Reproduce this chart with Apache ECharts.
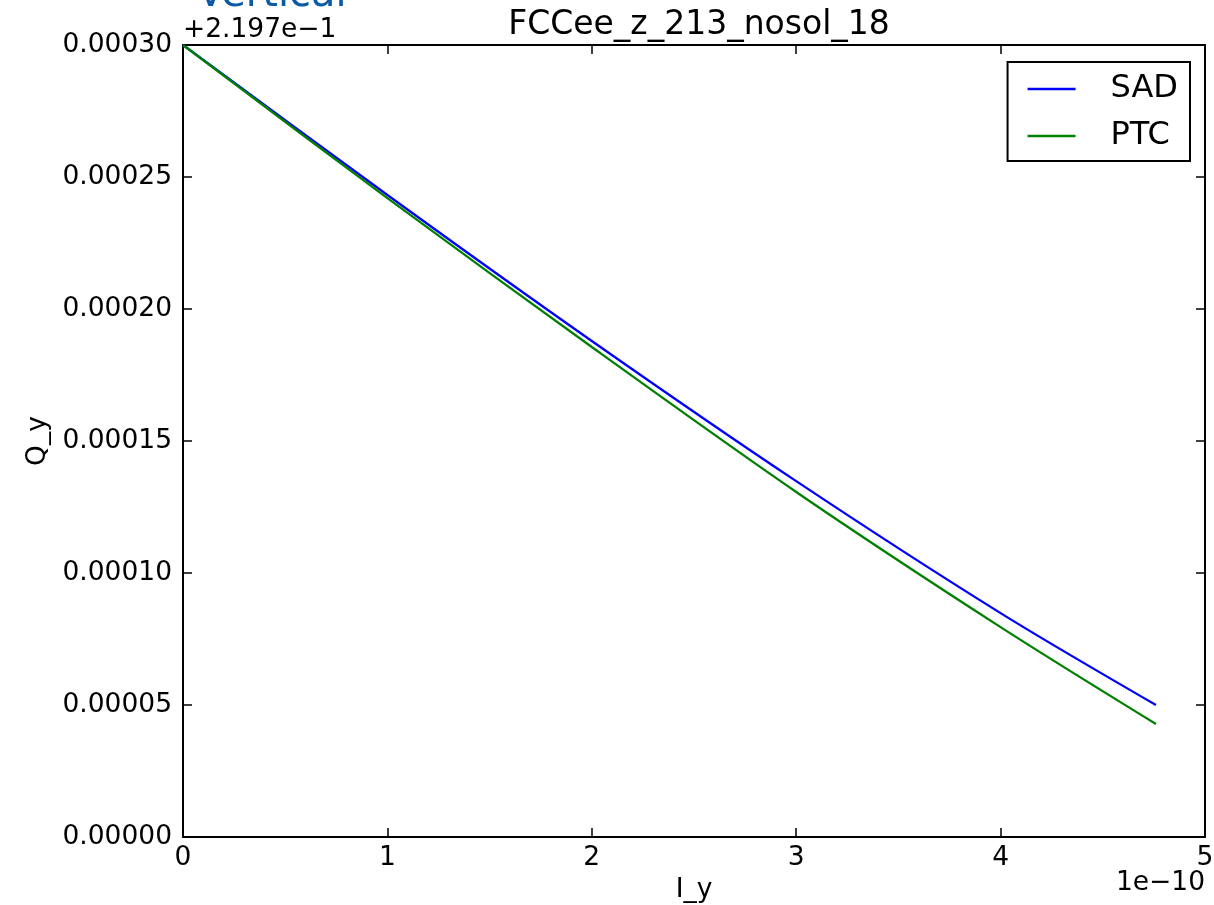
<!DOCTYPE html>
<html>
<head>
<meta charset="utf-8">
<script src="https://cdn.jsdelivr.net/npm/echarts@6/dist/echarts.min.js"></script>
<style>
  html, body { margin: 0; padding: 0; background: #fff; }
  #chart { width: 1214px; height: 905px; }
</style>
</head>
<body>
<div id="chart"></div>
<script>
// I_y in units of 1e-10
const iy = [0, 1, 2, 3, 4, 4.76];
// Q_y relative to the offset 0.2197
const qySAD = [0.000300, 0.0002432, 0.0001879, 0.0001348, 0.0000848, 0.0000500];
const qyPTC = [0.000300, 0.0002420, 0.0001856, 0.0001307, 0.0000795, 0.0000428];
const yTicks = ['0.00000', '0.00005', '0.00010', '0.00015', '0.00020', '0.00025', '0.00030'];
const xTicks = ['0', '1', '2', '3', '4', '5'];

const FONT = 'DejaVu Sans';
const TICK_FS = 26.5;
const pairs = (xs, ys) => xs.map((x, i) => [x, ys[i]]);

const frame = { onZero: false, lineStyle: { color: '#000', width: 2 } };
const tickIn = { show: true, inside: true, length: 9, lineStyle: { color: '#000', width: 1.5 } };

const chart = echarts.init(document.getElementById('chart'), null, { renderer: 'canvas' });
chart.setOption({
  animation: false,
  backgroundColor: '#fff',
  title: {
    text: 'FCCee_z_213_nosol_18',
    left: 694, top: 4, textAlign: 'center',
    textStyle: { fontFamily: FONT, fontSize: 33, fontWeight: 'normal', color: '#000' }
  },
  grid: { left: 183, right: 9, top: 45, bottom: 68, containLabel: false, outerBoundsMode: 'none' },
  legend: {
    orient: 'vertical',
    right: 24, top: 62,
    icon: 'rect', itemWidth: 48, itemHeight: 2.5, itemGap: 15,
    padding: [11, 12, 9, 20],
    borderColor: '#000', borderWidth: 2, borderRadius: 0,
    backgroundColor: '#fff',
    textStyle: { fontFamily: FONT, fontSize: 32, color: '#000', padding: [0, 0, 0, 30], lineHeight: 32 },
    data: ['SAD', 'PTC']
  },
  xAxis: [{
    type: 'value', min: 0, max: 5, interval: 1,
    name: 'I_y', nameLocation: 'middle', nameGap: 38,
    nameTextStyle: { fontFamily: FONT, fontSize: TICK_FS, color: '#000' },
    axisLine: frame, axisTick: tickIn, splitLine: { show: false },
    axisLabel: { fontFamily: FONT, fontSize: TICK_FS, color: '#000', margin: 8,
      formatter: v => xTicks[Math.round(v)] }
  }, {
    type: 'value', min: 0, max: 5, interval: 1, position: 'top',
    axisLine: frame, axisTick: tickIn, splitLine: { show: false }, axisLabel: { show: false }
  }],
  yAxis: [{
    type: 'value', min: 0, max: 0.0003, interval: 0.00005,
    name: 'Q_y', nameLocation: 'middle', nameGap: 125,
    nameTextStyle: { fontFamily: FONT, fontSize: TICK_FS, color: '#000' },
    axisLine: frame, axisTick: tickIn, splitLine: { show: false },
    axisLabel: { fontFamily: FONT, fontSize: TICK_FS, color: '#000', margin: 11,
      formatter: v => yTicks[Math.round(v / 0.00005)] }
  }, {
    type: 'value', min: 0, max: 0.0003, interval: 0.00005, position: 'right',
    axisLine: frame, axisTick: tickIn, splitLine: { show: false }, axisLabel: { show: false }
  }],
  series: [{
    name: 'SAD', type: 'line', data: pairs(iy, qySAD), smooth: 0.3,
    showSymbol: false, color: '#0000ff', lineStyle: { width: 2.3, color: '#0000ff' }
  }, {
    name: 'PTC', type: 'line', data: pairs(iy, qyPTC), smooth: 0.3,
    showSymbol: false, color: '#008000', lineStyle: { width: 2.3, color: '#008000' }
  }],
  graphic: [{
    type: 'text', left: 183, top: 17,
    style: { text: '+2.197e\u22121', fontFamily: FONT, fontSize: TICK_FS, fill: '#000' }
  }, {
    type: 'text', right: 9, top: 870,
    style: { text: '1e\u221210', fontFamily: FONT, fontSize: TICK_FS, fill: '#000' }
  }, {
    type: 'text', left: 197, top: -24,
    style: { text: 'Vertical', fontFamily: FONT, fontSize: 40, fill: '#0b5aa6' }
  }]
});
</script>
</body>
</html>
